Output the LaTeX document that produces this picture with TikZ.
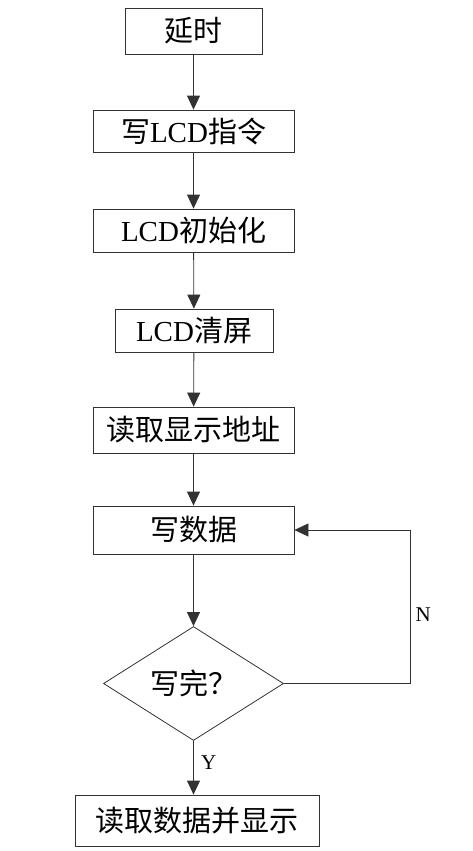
\documentclass[tikz,border=0pt]{standalone}
\usepackage{fontspec}
\setmainfont{Liberation Serif}
\newfontfamily\cjk{Noto Sans CJK SC}
\usepackage{tikz}
\usetikzlibrary{shapes.geometric, arrows.meta}
\definecolor{edge}{RGB}{50, 50, 50}

\begin{document}
\begin{tikzpicture}[x=1pt, y=-1pt,
  >={Triangle[length=14pt, width=13pt]},
  box/.style={draw=edge, line width=0.8pt, inner sep=0pt, minimum height=44pt,
    font=\cjk\fontsize{29}{32}\selectfont},
  flow/.style={->, draw=edge, line width=0.8pt},
  lbl/.style={font=\rmfamily\fontsize{21}{24}\selectfont}]

  \pgfmathsetmacro{\xc}{193.5};
  \pgfmathsetmacro{\xr}{410};

  \useasboundingbox (0, 0) rectangle (472, 851);

  \node[box, minimum width=137pt, minimum height=46pt] (delay) at (\xc, 31) {延时};
  \node[box, minimum width=201pt, minimum height=42pt] (cmd) at (\xc, 131)
    {写{\rmfamily LCD}指令};
  \node[box, minimum width=201pt, minimum height=43pt] (init) at (\xc, 230.5)
    {{\rmfamily LCD}初始化};
  \node[box, minimum width=158pt, minimum height=43pt] (clear) at (194, 330.5)
    {{\rmfamily LCD}清屏};
  \node[box, minimum width=201pt, minimum height=46pt] (addr) at (\xc, 430) {读取显示地址};
  \node[box, minimum width=201pt, minimum height=48pt] (write) at (\xc, 530) {写数据};
  \node[box, diamond, minimum width=180pt, minimum height=107pt] (done) at (\xc, 683.5)
    {写完？};
  \node[box, minimum width=244pt, minimum height=51pt] (show) at (197, 820.5)
    {读取数据并显示};

  \draw[flow] (delay) -- (cmd);
  \draw[flow] (cmd) -- (init);
  \draw[flow] (init) -- (clear);
  \draw[flow] (clear) -- (addr);
  \draw[flow] (addr) -- (write);
  \draw[flow] (write) -- (done);
  \draw[flow] (done.south) -- (done.south |- show.north)
    node[lbl, pos=0.4, right=4pt] {Y};
  \draw[flow] (done.east) -- (\xr, 683.5)
    -- node[lbl, pos=0.45, right=2pt] {N} (\xr, 530) -- (write.east);

\end{tikzpicture}
\end{document}
